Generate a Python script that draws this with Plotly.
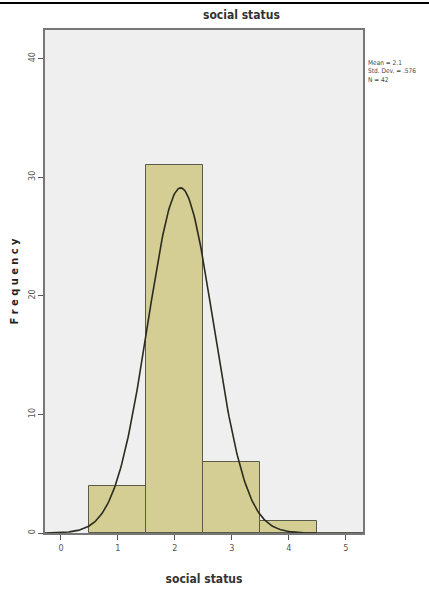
import numpy as np
import plotly.graph_objects as go

# Data
categories = [1, 2, 3, 4]
frequencies = [4, 31, 6, 1]
x_ticks = [0, 1, 2, 3, 4, 5]
y_ticks = [0, 10, 20, 30, 40]
stat_mean = 2.1
stat_sd = 0.576
stat_n = 42
bin_width = 1.0

font_family = "DejaVu Sans Condensed, Liberation Sans Narrow, Liberation Sans, sans-serif"

L, R, T, B = 45, 66, 30, 59
W, H = 429, 592
plot_w = W - L - R
plot_h = H - T - B


def px_x(p):
    return (p - L) / plot_w


def px_y(p):
    return (H - B - p) / plot_h


fig = go.Figure()
fig.add_trace(go.Bar(
    x=categories, y=frequencies, width=bin_width,
    marker=dict(color="#d4cd94", line=dict(color="#5a5a4a", width=1)),
    showlegend=False, hoverinfo="skip"))

# fitted normal curve from the reported statistics
xc = np.linspace(-0.28, 5.3, 300)
yc = stat_n * bin_width / (stat_sd * np.sqrt(2 * np.pi)) * np.exp(-0.5 * ((xc - stat_mean) / stat_sd) ** 2)
fig.add_trace(go.Scatter(x=xc, y=yc, mode="lines",
                         line=dict(color="#2b2b20", width=1.6),
                         showlegend=False, hoverinfo="skip", cliponaxis=True))

fig.update_layout(
    width=W, height=H,
    margin=dict(l=L, r=R, t=T, b=B, autoexpand=False),
    paper_bgcolor="white", plot_bgcolor="#efefef",
    bargap=0,
    font=dict(family=font_family, color="#333"),
    xaxis=dict(range=[-0.28, 5.3], tickvals=x_ticks, ticks="outside", ticklen=5,
               tickcolor="#555", tickfont=dict(size=9, color="#555"),
               showgrid=False, zeroline=False, showline=True, linecolor="#777",
               linewidth=1.5, mirror=True, automargin=False,
               title=dict(text="<b>social status</b>", font=dict(size=12, color="#333"), standoff=23)),
    yaxis=dict(range=[0, 42.4], tickvals=y_ticks, ticks="outside", ticklen=5,
               tickcolor="#555", tickangle=-90, tickfont=dict(size=9, color="#555"),
               showgrid=False, zeroline=False, showline=True, linecolor="#777",
               linewidth=1.5, mirror=True, automargin=False,
               title=dict(text="<b>F r e q u e n c y</b>", font=dict(size=11, color="#222"), standoff=6)),
    annotations=[
        dict(text="<b>social status</b>", x=px_x(241), xref="paper", y=px_y(15), yref="paper",
             xanchor="center", yanchor="middle",
             showarrow=False, font=dict(size=12, color="#333")),
        dict(text="Mean = 2.1<br>Std. Dev. = .576<br>N = 42", x=px_x(366), xref="paper",
             y=px_y(57), yref="paper", xanchor="left", yanchor="top", align="left",
             showarrow=False, font=dict(size=6.5, color="#444")),
    ],
    shapes=[dict(type="line", xref="paper", yref="paper", x0=px_x(0), x1=px_x(429),
                 y0=px_y(3), y1=px_y(3), line=dict(color="black", width=2))],
)

fig.write_html("out.html", config={"displayModeBar": False},
               post_script="document.body.style.margin='0';document.body.style.overflow='hidden';")
